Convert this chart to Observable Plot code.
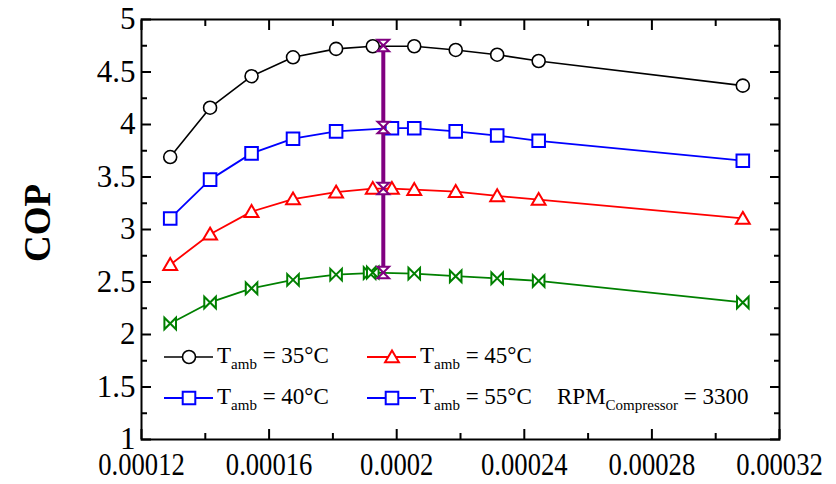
<!DOCTYPE html>
<html><head><meta charset="utf-8">
<script src="https://cdn.jsdelivr.net/npm/d3@7"></script>
<script src="https://cdn.jsdelivr.net/npm/@observablehq/plot@0.6"></script>
<style>
body{margin:0;background:#fff;}
#chart{width:836px;height:484px;}
svg text{font-family:"Liberation Serif","Times New Roman",serif;}
</style></head><body><div id="chart"></div>
<script>
// ---- data ----
const x35 = [0.000129, 0.0001415, 0.0001545, 0.0001675, 0.000181, 0.0001925, 0.0002055, 0.0002185, 0.0002315, 0.0002445, 0.0003085];
const y35 = [3.69, 4.16, 4.46, 4.64, 4.72, 4.745, 4.745, 4.71, 4.665, 4.605, 4.37];
const x40 = [0.000129, 0.0001415, 0.0001545, 0.0001675, 0.000181, 0.0001985, 0.0002055, 0.0002185, 0.0002315, 0.0002445, 0.0003085];
const y40 = [3.105, 3.475, 3.725, 3.865, 3.935, 3.965, 3.965, 3.935, 3.895, 3.845, 3.655];
const x45 = [0.000129, 0.0001415, 0.0001545, 0.0001675, 0.000181, 0.0001925, 0.0001985, 0.0002055, 0.0002185, 0.0002315, 0.0002445, 0.0003085];
const y45 = [2.665, 2.955, 3.17, 3.29, 3.355, 3.39, 3.39, 3.38, 3.36, 3.32, 3.285, 3.105];
const x55 = [0.000129, 0.0001415, 0.0001545, 0.0001675, 0.000181, 0.0001915, 0.0001925, 0.0002055, 0.0002185, 0.0002315, 0.0002445, 0.0003085];
const y55 = [2.105, 2.305, 2.44, 2.52, 2.57, 2.585, 2.59, 2.58, 2.555, 2.535, 2.51, 2.305];
const xOpt = [0.0001958, 0.0001958, 0.0001958, 0.0001958];
const yOpt = [4.752, 3.972, 3.39, 2.59];

const xTicksMajor = [0.00012, 0.00016, 0.0002, 0.00024, 0.00028, 0.00032];
const xTicksMinor = [0.00014, 0.00018, 0.00022, 0.00026, 0.0003];
const yTicksMajor = [1, 1.5, 2, 2.5, 3, 3.5, 4, 4.5, 5];
const yTicksMinor = [1.25, 1.75, 2.25, 2.75, 3.25, 3.75, 4.25, 4.75];

const yLabel = "COP";
const legendRows = [
  {sub: "amb", text: " = 35°C", color: "black", sym: "circle"},
  {sub: "amb", text: " = 45°C", color: "red", sym: "triangle"},
  {sub: "amb", text: " = 40°C", color: "blue", sym: "square"},
  {sub: "amb", text: " = 55°C", color: "blue", sym: "square"}
];
const noteMain = "RPM", noteSub = "Compressor", noteRest = " = 3300";

// ---- symbols ----
const rOf = s => Math.sqrt(s / Math.PI);
const symSquare = {draw(c, s){ const r = rOf(s); c.moveTo(-r,-r); c.lineTo(r,-r); c.lineTo(r,r); c.lineTo(-r,r); c.closePath(); }};
const symTri = {draw(c, s){ const r = rOf(s); c.moveTo(0,-r*1.0); c.lineTo(r*1.05,r*0.8); c.lineTo(-r*1.05,r*0.8); c.closePath(); }};
const symBow = {draw(c, s){ const r = rOf(s); c.moveTo(-r,-r); c.lineTo(r,r); c.lineTo(r,-r); c.lineTo(-r,r); c.closePath(); }};
const symHour = {draw(c, s){ const r = rOf(s); c.moveTo(-r,-r); c.lineTo(r,-r); c.lineTo(-r,r); c.lineTo(r,r); c.closePath(); }};
const symCircle = {draw(c, s){ const r = rOf(s); c.moveTo(r,0); c.arc(0,0,r,0,2*Math.PI); }};

const toRows = (xs, ys) => xs.map((x, i) => ({x, y: ys[i]}));
const d35 = toRows(x35, y35), d40 = toRows(x40, y40), d45 = toRows(x45, y45), d55 = toRows(x55, y55), dOpt = toRows(xOpt, yOpt);

const tickOpts = {fill: "none", label: null, strokeWidth: 2, stroke: "black"};
const fmtX = d => String(+d.toFixed(6));

const plot = Plot.plot({
  width: 836, height: 484,
  marginLeft: 141, marginRight: 57, marginTop: 19, marginBottom: 45,
  x: {domain: [0.00012, 0.00032]},
  y: {domain: [1, 5]},
  style: {background: "white", color: "black", fontFamily: "Liberation Serif"},
  marks: [
    Plot.line(d35, {x: "x", y: "y", stroke: "black", strokeWidth: 1.6}),
    Plot.line(d40, {x: "x", y: "y", stroke: "blue", strokeWidth: 1.8}),
    Plot.line(d45, {x: "x", y: "y", stroke: "red", strokeWidth: 1.8}),
    Plot.line(d55, {x: "x", y: "y", stroke: "green", strokeWidth: 1.8}),
    Plot.dot(d35, {x: "x", y: "y", symbol: symCircle, r: 6.5, stroke: "black", fill: "white", strokeWidth: 1.6}),
    Plot.dot(d40, {x: "x", y: "y", symbol: symSquare, r: 6.3, stroke: "blue", fill: "white", strokeWidth: 2}),
    Plot.dot(d45, {x: "x", y: "y", symbol: symTri, r: 6.6, stroke: "red", fill: "white", strokeWidth: 2}),
    Plot.dot(d55, {x: "x", y: "y", symbol: symBow, r: 5.8, stroke: "green", fill: "white", strokeWidth: 2}),
    Plot.line(dOpt, {x: "x", y: "y", stroke: "purple", strokeWidth: 4}),
    Plot.dot(dOpt, {x: "x", y: "y", symbol: symHour, r: 5.8, stroke: "purple", fill: "white", strokeWidth: 2}),
    Plot.frame({stroke: "black", strokeWidth: 2}),
    Plot.axisX(xTicksMajor, {anchor: "bottom", tickSize: -10, ...tickOpts}),
    Plot.axisX(xTicksMinor, {anchor: "bottom", tickSize: -6, ...tickOpts}),
    Plot.axisX(xTicksMajor, {anchor: "top", tickSize: -10, ...tickOpts}),
    Plot.axisX(xTicksMinor, {anchor: "top", tickSize: -6, ...tickOpts}),
    Plot.axisY(yTicksMajor, {anchor: "left", tickSize: -10, ...tickOpts}),
    Plot.axisY(yTicksMinor, {anchor: "left", tickSize: -6, ...tickOpts}),
    Plot.axisY(yTicksMajor, {anchor: "right", tickSize: -10, ...tickOpts}),
    Plot.axisY(yTicksMinor, {anchor: "right", tickSize: -6, ...tickOpts}),
    Plot.axisX(xTicksMajor, {anchor: "bottom", tickSize: 0, tickPadding: 13, fontSize: 31, tickFormat: fmtX, label: null, fill: "black"}),
    Plot.axisY(yTicksMajor, {anchor: "left", tickSize: 0, tickPadding: 6, fontSize: 31, tickFormat: d => String(d), label: null, fill: "black"})
  ]
});
document.getElementById("chart").appendChild(plot);

const svg = d3.select(plot);
// condensed x tick labels, as in the reference
svg.selectAll('g[aria-label="x-axis tick label"] text').each(function() {
  const len = this.getComputedTextLength();
  this.setAttribute("textLength", (len * 0.86).toFixed(1));
  this.setAttribute("lengthAdjust", "spacingAndGlyphs");
});

// y-axis title
svg.append("text").attr("transform", "translate(50,223) rotate(-90)")
  .attr("text-anchor", "middle").attr("font-size", 37).attr("font-weight", "bold")
  .attr("fill", "black").text(yLabel);

// ---- legend (inside the plot frame) ----
const g = svg.append("g").attr("class", "legend").attr("text-anchor", "start");
const symMap = {circle: symCircle, square: symSquare, triangle: symTri};
const rMap = {circle: 6.5, square: 6.3, triangle: 6.6};
const pos = [[164, 357], [367, 357], [164, 398], [367, 398]];
legendRows.forEach((row, i) => {
  const [lx, ly] = pos[i];
  g.append("line").attr("x1", lx).attr("x2", lx + 49).attr("y1", ly).attr("y2", ly)
    .attr("stroke", row.color).attr("stroke-width", row.color === "black" ? 1.6 : 1.8);
  const r = rMap[row.sym];
  const p = d3.path(); symMap[row.sym].draw(p, r * r * Math.PI);
  g.append("path").attr("d", p.toString()).attr("transform", `translate(${lx + 25},${ly})`)
    .attr("fill", "white").attr("stroke", row.color).attr("stroke-width", row.color === "black" ? 1.6 : 2);
  const t = g.append("text").attr("x", lx + 53).attr("y", ly + 6).attr("font-size", 23).attr("fill", "black");
  t.append("tspan").text("T");
  t.append("tspan").attr("font-size", 15).attr("dy", 6).text(row.sub);
  t.append("tspan").attr("dy", -6).text(row.text);
});
const tn = g.append("text").attr("x", 557).attr("y", 404).attr("font-size", 23).attr("fill", "black");
tn.append("tspan").text(noteMain);
tn.append("tspan").attr("font-size", 15).attr("dy", 6).text(noteSub);
tn.append("tspan").attr("dy", -6).text(noteRest);
</script></body></html>
